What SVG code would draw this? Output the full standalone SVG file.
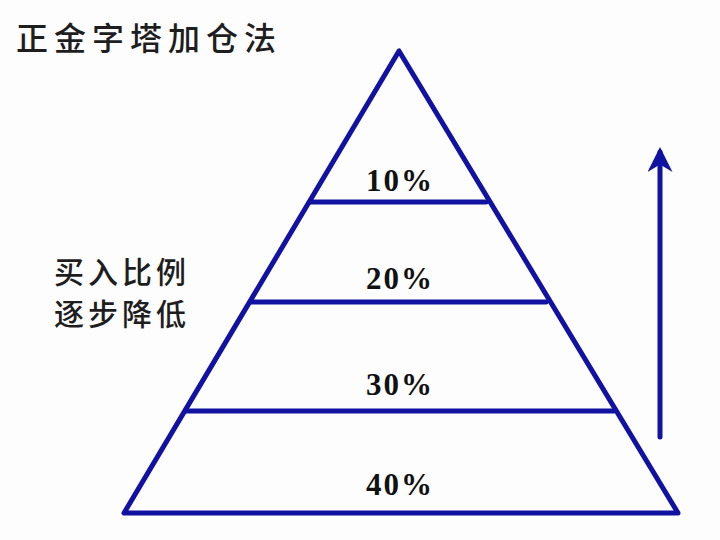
<svg xmlns="http://www.w3.org/2000/svg" width="720" height="540" viewBox="0 0 720 540">
<defs>
<style>
.ln{stroke:#1212a2;stroke-width:5;fill:none;stroke-linejoin:round;stroke-linecap:round}
.pct{font-family:"Liberation Serif","Times New Roman",serif;font-weight:bold;font-size:31px;fill:#111;text-anchor:middle;letter-spacing:2px}
.cjk{font-family:"Noto Sans CJK SC","Noto Sans",sans-serif;font-weight:500;fill:#1e1e1e}
</style>
<marker id="ah" viewBox="0 0 10 10" refX="8" refY="5" markerWidth="5" markerHeight="5" orient="auto" markerUnits="strokeWidth">
<path d="M0,0 L10,5 L0,10 L3,5 Z" fill="#1212a2"/>
</marker>
</defs>
<rect width="720" height="540" fill="#fdfdfe"/>
<g id="title"><text class="cjk" x="16" y="50" font-size="32" letter-spacing="6">正金字塔加仓法</text></g>
<g id="pyramid">
<polygon class="ln" points="399,51 124,513 678,513"/>
</g>
<g id="connectors">
<line class="ln" x1="311" y1="202" x2="486" y2="202"/>
<line class="ln" x1="251" y1="302" x2="546" y2="302"/>
<line class="ln" x1="186" y1="411" x2="614" y2="411"/>
<line class="ln" x1="660" y1="437" x2="660" y2="152" marker-end="url(#ah)"/>
</g>
<g id="level1"><text class="pct" x="400" y="191">10%</text></g>
<g id="level2"><text class="pct" x="400" y="289">20%</text></g>
<g id="level3"><text class="pct" x="400" y="395">30%</text></g>
<g id="level4"><text class="pct" x="400" y="495">40%</text></g>
<g id="note">
<text class="cjk" x="54" y="283" font-size="30" letter-spacing="4">买入比例</text>
<text class="cjk" x="54" y="325" font-size="30" letter-spacing="4">逐步降低</text>
</g>
</svg>
